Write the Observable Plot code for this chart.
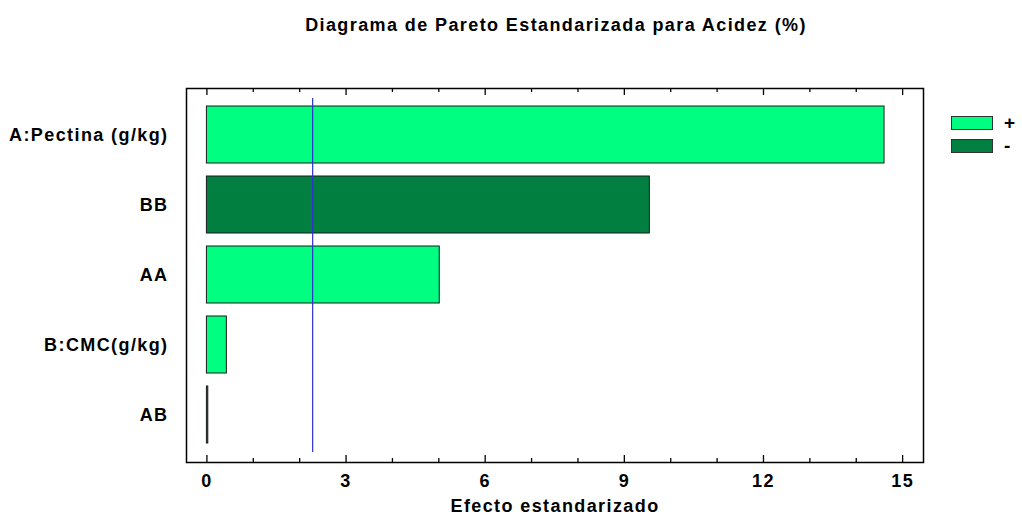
<!DOCTYPE html>
<html>
<head>
<meta charset="utf-8">
<script src="https://cdn.jsdelivr.net/npm/d3@7"></script>
<script src="https://cdn.jsdelivr.net/npm/@observablehq/plot@0.6"></script>
<style>
  body { margin: 0; background: #fff; font-family: "Liberation Sans", Arial, sans-serif; }
  #wrap { position: relative; width: 1022px; height: 517px; }
  #title { position: absolute; left: 0; width: 1112px; top: 15px; text-align: center; font-weight: bold; font-size: 18px; letter-spacing: 1.4px; color: #000; }
  .sw { position: absolute; left: 951px; width: 42px; height: 14px; border: 1px solid #333; box-sizing: border-box; }
  .lt { position: absolute; left: 1004px; font-weight: bold; font-size: 19px; line-height: 19px; }
  svg text { font-size: 18px !important; letter-spacing: 1.4px; font-weight: bold; }
</style>
</head>
<body>
<div id="wrap">
  <div id="title">Diagrama de Pareto Estandarizada para Acidez (%)</div>
  <div id="chart"></div>
</div>
<script>
const factors = ["A:Pectina (g/kg)", "BB", "AA", "B:CMC(g/kg)", "AB"];
const effects = [14.61, 9.55, 5.02, 0.43, 0.03];
const signs = ["+", "-", "+", "+", "-"];
const signLabels = ["+", "-"];
const signColors = ["#00ff80", "#007f40"];
const criticalValue = [2.28];
const majorTicks = [0, 3, 6, 9, 12, 15];
const minorTicks = [1, 2, 4, 5, 7, 8, 10, 11, 13, 14];
const xLabel = "Efecto estandarizado";

const data = factors.map((f, i) => ({factor: f, effect: effects[i], sign: signs[i]}));

const W = 1022, H = 517, mT = 88, mB = 55, mL = 186, mR = 99;
const frameH = H - mT - mB;

const chart = Plot.plot({
  width: W,
  height: H,
  marginTop: mT,
  marginBottom: mB,
  marginLeft: mL,
  marginRight: mR,
  style: {fontFamily: "'Liberation Sans', Arial, sans-serif", fontSize: "18px", fontWeight: "bold", color: "#000", background: "#fff"},
  x: {domain: [-0.44, 15.45], label: xLabel, labelArrow: "none"},
  y: {domain: factors, paddingInner: 0.186, paddingOuter: 0.093, insetTop: 11.5, insetBottom: 12.5},
  color: {domain: signLabels, range: signColors},
  marks: [
    Plot.barX(data, {x1: 0, x2: "effect", y: "factor", fill: "sign", stroke: "#1a1a1a", strokeWidth: 1}),
    Plot.ruleX(criticalValue, {stroke: "#3030d0", strokeWidth: 1.2, insetTop: 10, insetBottom: 10}),
    Plot.ruleX(majorTicks, {stroke: "#000", strokeWidth: 1.3, insetTop: frameH - 7}),
    Plot.ruleX(minorTicks, {stroke: "#000", strokeWidth: 1.3, insetTop: frameH - 4}),
    Plot.ruleX(majorTicks, {stroke: "#000", strokeWidth: 1.3, insetBottom: frameH - 7}),
    Plot.ruleX(minorTicks, {stroke: "#000", strokeWidth: 1.3, insetBottom: frameH - 4}),
    Plot.axisY({tickSize: 0, tickPadding: 18, label: null}),
    Plot.axisX({ticks: majorTicks, tickSize: 0, tickPadding: 12, tickFormat: d3.format("d"),
      label: xLabel, labelArrow: "none", labelAnchor: "center", labelOffset: 49}),
    Plot.frame({stroke: "#000", strokeWidth: 1.5})
  ]
});
document.getElementById("chart").appendChild(chart);

const wrap = document.getElementById("wrap");
signLabels.forEach((s, i) => {
  const sw = document.createElement("div");
  sw.className = "sw";
  sw.style.top = (116 + i * 23) + "px";
  sw.style.background = signColors[i];
  wrap.appendChild(sw);
  const t = document.createElement("div");
  t.className = "lt";
  t.style.top = (113 + i * 23) + "px";
  t.textContent = s;
  wrap.appendChild(t);
});
</script>
</body>
</html>
